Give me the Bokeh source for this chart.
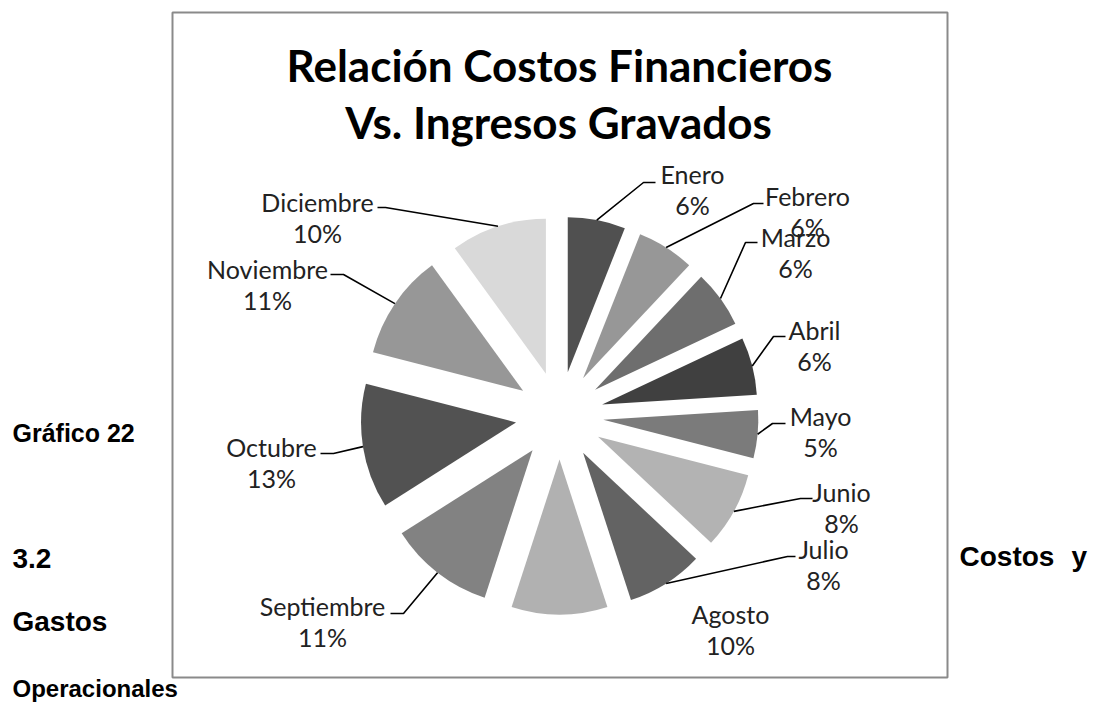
import numpy as np
from bokeh.plotting import figure
from bokeh.models import Range1d, ColumnDataSource
from bokeh.core.properties import value
from bokeh.embed import file_html
from bokeh.resources import INLINE

# ---------------- data ----------------
months = ["Enero", "Febrero", "Marzo", "Abril", "Mayo", "Junio", "Julio",
          "Agosto", "Septiembre", "Octubre", "Noviembre", "Diciembre"]
percent = [6, 6, 6, 6, 5, 8, 8, 10, 11, 13, 11, 10]
slice_colors = ["#505050", "#979797", "#6e6e6e", "#404040", "#7b7b7b", "#b3b3b3",
                "#636363", "#b1b1b1", "#828282", "#525252", "#979797", "#d9d9d9"]
title_lines = ["Relación Costos Financieros", "Vs. Ingresos Gravados"]

# ---------------- layout (pixel coords from top-left, y downward) ----------------
FW, FH = 1096, 702
def Y(yimg):
    return FH - yimg

CX, CY = 559, 415        # pie centre
EXPLODE = 44             # radial offset of each slice
RADIUS = 155

# label name centres; percent line is drawn LINE_GAP below
label_pos = [(692, 173), (807, 195), (795, 236), (814, 329), (820, 415), (841, 491),
             (823, 548), (730, 613), (322, 605), (271, 446), (267, 268), (317, 201)]
LINE_GAP = 31
# leader lines: (x_end near text, x_elbow, y) ; None = no leader
leaders = [(655, 643, 182), (763, 753, 203), (757, 745, 242), (785, 773, 336),
           (785, 772, 423), (812, 800, 498), (795, 787, 556), None,
           (390, 403, 613), (320, 333, 453), (330, 343, 274), (377, 385, 207)]

p = figure(width=FW, height=FH, output_backend="svg", toolbar_location=None,
           x_range=Range1d(0, FW), y_range=Range1d(0, FH), min_border=0)
p.axis.visible = False
p.grid.visible = False
p.outline_line_color = None
p.background_fill_color = "white"
p.border_fill_color = "white"

# chart frame
p.quad(left=[172], right=[947], top=[Y(12)], bottom=[Y(677)], fill_color=None,
       line_color="#8a8a8a", line_width=2)

# slices
total = float(sum(percent))
cum = np.concatenate([[0], np.cumsum(percent)]) / total * 360.0
start_cw = cum[:-1]
end_cw = cum[1:]
mid_cw = (start_cw + end_cw) / 2
a_start = np.deg2rad(90 - end_cw)
a_end = np.deg2rad(90 - start_cw)
a_mid = np.deg2rad(90 - mid_cw)
sx = CX + EXPLODE * np.cos(a_mid)
sy = Y(CY) + EXPLODE * np.sin(a_mid)

src = ColumnDataSource(dict(x=sx, y=sy, s=a_start, e=a_end, c=slice_colors))
p.wedge(x="x", y="y", radius=RADIUS, start_angle="s", end_angle="e",
        direction="anticlock", fill_color="c", line_color=None, source=src)

# leader lines
xs, ys = [], []
for i, ld in enumerate(leaders):
    if ld is None:
        continue
    ax = sx[i] + RADIUS * np.cos(a_mid[i])
    ay = sy[i] + RADIUS * np.sin(a_mid[i])
    xe, xb, yl = ld
    xs.append([xe, xb, ax])
    ys.append([Y(yl), Y(yl), ay])
p.multi_line(xs, ys, line_color="black", line_width=1.6)

# labels
lx = [q[0] for q in label_pos]
ly = [Y(q[1]) for q in label_pos]
ly2 = [Y(q[1] + LINE_GAP) for q in label_pos]
pct_txt = [f"{v}%" for v in percent]
p.text(x=lx, y=ly, text=months, text_font=value("Lato"), text_font_size="25px",
       text_align="center", text_baseline="middle", text_color="#222222")
p.text(x=lx, y=ly2, text=pct_txt, text_font=value("Lato"), text_font_size="25px",
       text_align="center", text_baseline="middle", text_color="#222222")

# title
p.text(x=[559, 558], y=[Y(64), Y(121)], text=title_lines, text_font=value("Lato"),
       text_font_size="44px", text_font_style="bold", text_align="center",
       text_baseline="middle", text_color="black")

# surrounding document text
doc_txt = ["Gráfico 22", "3.2", "Costos", "y", "Gastos", "Operacionales"]
doc_x = [12, 12, 959, 1071, 12, 12]
doc_y = [Y(432), Y(558), Y(556), Y(556), Y(621), Y(688)]
doc_size = ["25px", "28px", "28px", "28px", "28px", "24px"]
p.text(x=doc_x, y=doc_y, text=doc_txt, text_font=value("Liberation Sans"),
       text_font_size=doc_size, text_font_style="bold", text_align="left",
       text_baseline="middle", text_color="black")

open("out.html", "w").write(file_html(p, INLINE))
